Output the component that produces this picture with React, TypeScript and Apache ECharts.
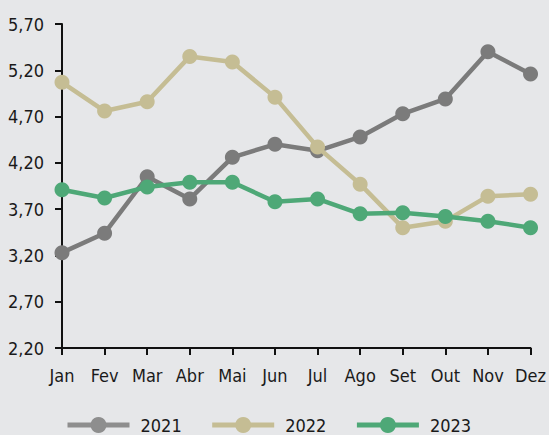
import React, { useEffect, useRef } from "react";
import * as echarts from "echarts";

const months = ["Jan", "Fev", "Mar", "Abr", "Mai", "Jun", "Jul", "Ago", "Set", "Out", "Nov", "Dez"];
const s2021 = [3.23, 3.44, 4.05, 3.81, 4.26, 4.4, 4.33, 4.48, 4.73, 4.89, 5.4, 5.16];
const s2022 = [5.07, 4.76, 4.86, 5.35, 5.29, 4.91, 4.37, 3.97, 3.5, 3.57, 3.84, 3.86];
const s2023 = [3.91, 3.82, 3.94, 3.99, 3.99, 3.78, 3.81, 3.65, 3.66, 3.62, 3.57, 3.5];
const seriesNames = ["2021", "2022", "2023"];
const colors = ["#7b7b7b", "#c5bd94", "#4ea877"];
const legendColors = ["#8e8e8e", "#c5bd94", "#4ea877"];

const FONT = "'DejaVu Sans Condensed', 'Liberation Sans Narrow', sans-serif";

export default function App() {
  const ref = useRef<HTMLDivElement>(null);
  useEffect(() => {
    if (!ref.current) return;
    const chart = echarts.init(ref.current, null, { renderer: "svg" });
    const data = [s2021, s2022, s2023];
    chart.setOption({
      animation: false,
      backgroundColor: "#e6e7e9",
      textStyle: { fontFamily: FONT },
      grid: { left: 62, right: 18, top: 24, bottom: 87, containLabel: false },
      legend: {
        top: 411,
        left: 60,
        itemWidth: 62,
        itemHeight: 20,
        itemGap: 28,
        textStyle: { fontSize: 18, color: "#1a1a1a", fontFamily: FONT, padding: [0, 0, 0, 6] },
        data: seriesNames.map((n, i) => ({
          name: n,
          itemStyle: { color: legendColors[i] },
          lineStyle: { color: legendColors[i], width: 5 },
        })),
      },
      xAxis: {
        type: "category",
        data: months,
        boundaryGap: false,
        axisLine: { lineStyle: { color: "#111", width: 2 } },
        axisTick: { show: true, alignWithLabel: true, interval: 0, length: 7, lineStyle: { color: "#111", width: 2 } },
        axisLabel: { fontSize: 18, color: "#1a1a1a", margin: 18, interval: 0, fontFamily: FONT },
        splitLine: { show: false },
      },
      yAxis: {
        type: "value",
        min: 2.2,
        max: 5.7,
        interval: 0.5,
        axisLine: { show: true, lineStyle: { color: "#111", width: 2 } },
        axisTick: { show: true, length: 7, lineStyle: { color: "#111", width: 2 } },
        axisLabel: {
          fontSize: 18,
          color: "#1a1a1a",
          margin: 18,
          fontFamily: FONT,
          formatter: (v: number) => v.toFixed(2).replace(".", ","),
        },
        splitLine: { show: false },
      },
      series: seriesNames.map((n, i) => ({
        name: n,
        type: "line",
        data: data[i],
        symbol: "circle",
        symbolSize: 15,
        lineStyle: { width: 4.5, color: colors[i] },
        itemStyle: { color: colors[i] },
        z: 2 + i,
      })),
    });
    return () => chart.dispose();
  }, []);
  return <div ref={ref} style={{ position: "fixed", left: 0, top: 0, width: 549, height: 435 }} />;
}
